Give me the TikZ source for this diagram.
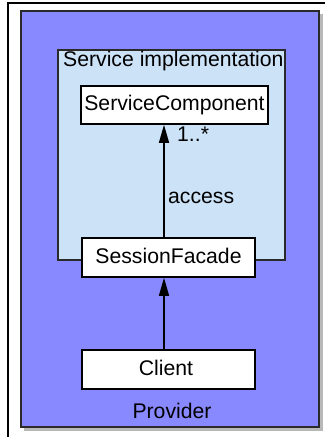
\documentclass[tikz,border=0pt]{standalone}
\usepackage{fontspec}
\setmainfont{Liberation Sans}
\usetikzlibrary{arrows.meta}
\definecolor{provblue}{HTML}{8888FF}
\definecolor{implblue}{HTML}{CCE2F7}
\definecolor{shadowgray}{HTML}{B8B8B8}
\definecolor{frameline}{HTML}{2A2A2A}
\begin{document}
\begin{tikzpicture}[x=1pt,y=-1pt,
  classbox/.style={draw=black,line width=1.6pt,fill=white,inner sep=0pt},
  lbl/.style={font=\fontsize{21.2}{24}\selectfont,inner sep=0pt,text=black},
  conn/.style={line width=1.5pt,-{Triangle[length=18pt,width=10pt]}}]
\useasboundingbox (0,0) rectangle (325,437);
\fill[white] (0,0) rectangle (325,437);
% outer frame
\draw[line width=1.5pt,black] (8,437) -- (8,3) -- (325,3);
% provider
\fill[shadowgray] (24,14) rectangle (323,431);
\draw[frameline,line width=2pt,fill=provblue] (21,11) rectangle (319,427);
% service implementation
\draw[frameline,line width=1.8pt,fill=implblue] (58,50) rectangle (285,260);
\node[lbl,anchor=west] (impl) at (63,61) {Service implementation};
% boxes
\node[classbox,minimum width=187pt,minimum height=38pt] (sc) at (174.5,105) {};
\node[lbl] (sctext) at (sc.center) {ServiceComponent};
\node[classbox,minimum width=173pt,minimum height=39pt] (sf) at (168.5,257.5) {};
\node[lbl] (sftext) at (168.5,256) {SessionFacade};
\node[classbox,minimum width=173pt,minimum height=39pt] (cl) at (168.5,369.5) {};
\node[lbl] (cltext) at (166,368) {Client};
\node[lbl] (prov) at (172,411) {Provider};
% connectors
\coordinate (axis) at (164,0);
\draw[conn] (axis |- sf.north) -- (axis |- sc.south);
\draw[conn] (axis |- cl.north) -- (axis |- sf.south);
\node[lbl,anchor=west] (mult) at (177,134) {1..*};
\node[lbl,anchor=west] (acc) at (168,198) {access};
\end{tikzpicture}
\end{document}
